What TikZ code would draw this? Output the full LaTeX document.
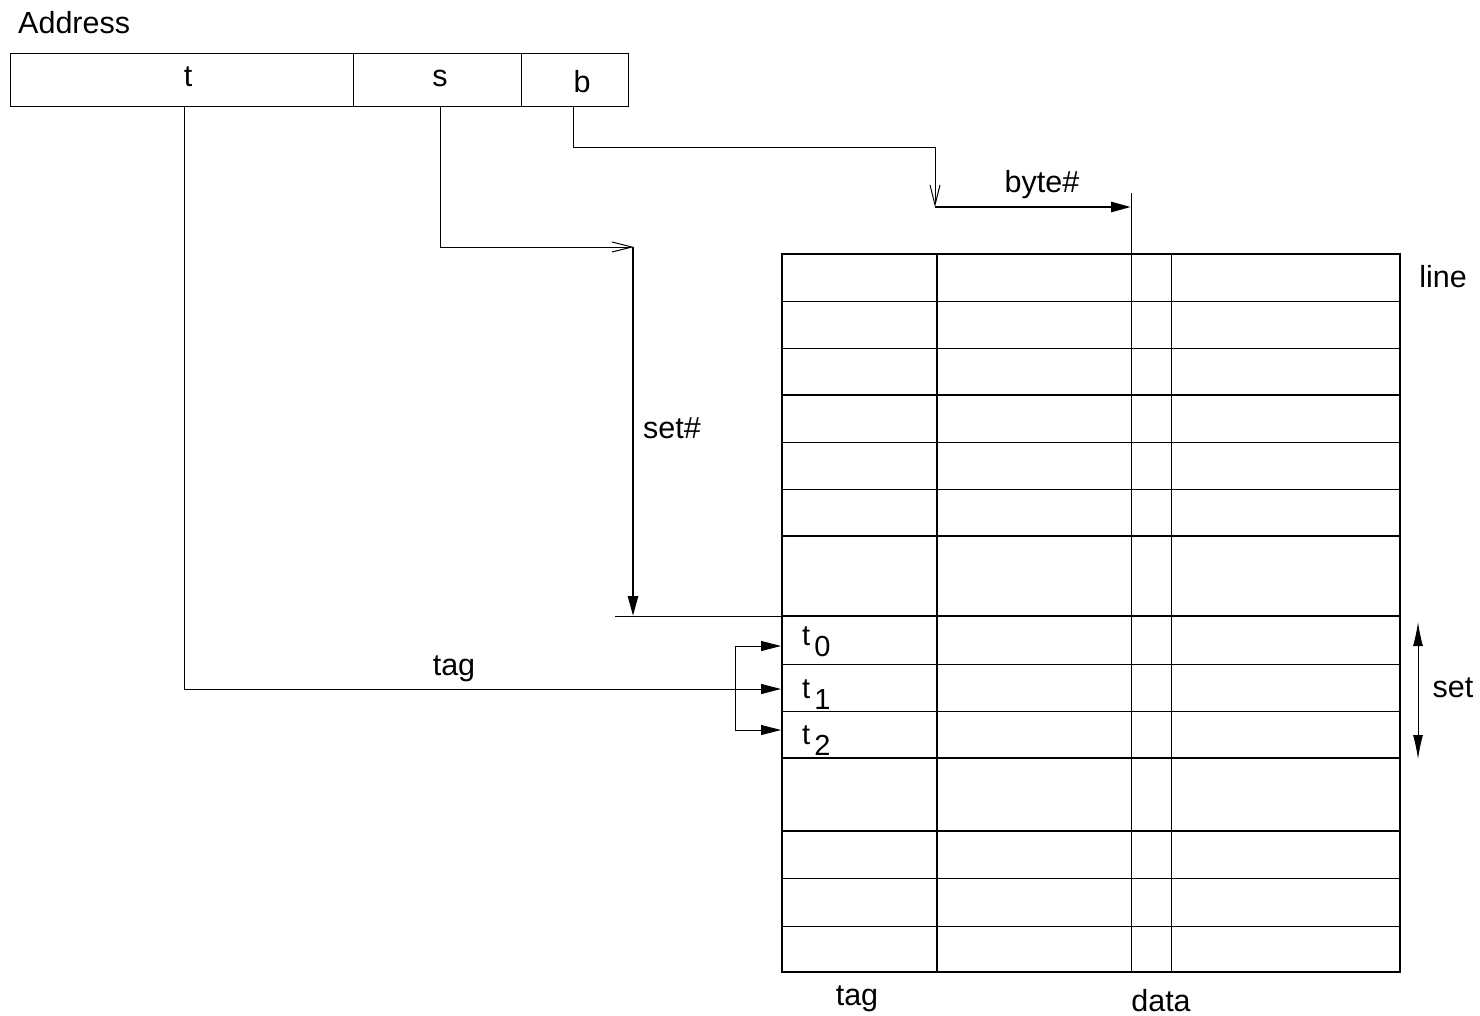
\documentclass[tikz,border=0pt]{standalone}
\usepackage{fontspec}
\setmainfont{Liberation Sans}
\usetikzlibrary{arrows.meta}
\begin{document}
\begin{tikzpicture}[x=1pt,y=-1pt,
  thinln/.style={line width=1pt},
  thickln/.style={line width=2.6pt},
  lbl/.style={font=\fontsize{30.5}{34}\selectfont, inner sep=0pt, anchor=base},
  small/.style={font=\fontsize{29}{30}\selectfont, inner sep=0pt, anchor=base west},
  field/.style={draw, line width=1pt, minimum height=53pt, inner sep=0pt, outer sep=0pt, anchor=north west},
  fillarrow/.style={-{Triangle[length=20pt,width=10pt]}},
  openarrow/.style={-{Straight Barb[length=20pt,width=10pt]}}]
\useasboundingbox (0,0) rectangle (1480,1015);

% Address register
\node[lbl, anchor=base west] (addr) at (18,33) {Address};
\node[field, minimum width=343pt] (ft) at (10,53) {};
\node[field, minimum width=168pt] (fs) at (ft.north east) {};
\node[field, minimum width=107pt] (fb) at (fs.north east) {};
\node[lbl] (tl) at (188,86) {t};
\node[lbl] (sl) at (440,86) {s};
\node[lbl] (bl) at (582,92) {b};

% Cache table
\coordinate (tbl) at (782,254);
\coordinate (tbr) at (1400,972);
\foreach \y in {301,348,442,489,664,711,878,926}
  \draw[thinln] (782,\y) -- (1400,\y);
\foreach \y in {395,536,616,758,831}
  \draw[thickln] (782,\y) -- (1400,\y);
\draw[thickln] (937,254) -- (937,972);
\draw[thinln] (1171,254) -- (1171,972);
\coordinate (bytetop) at (1131,193);
\draw[thinln] (bytetop) -- (1131,972);
\draw[thickln] (tbl) rectangle (tbr);

% Tag path
\coordinate (t0in) at (781,646);
\coordinate (t1in) at (781,689);
\coordinate (t2in) at (781,730);
\coordinate (br) at (735,689);
\draw[thinln, fillarrow] ([xshift=3pt]ft.south) |- (t1in);
\draw[thinln, fillarrow] (br) |- (t0in);
\draw[thinln, fillarrow] (br) |- (t2in);

% Set path
\coordinate (scorner) at (634,247);
\coordinate (setend) at (633,616);
\coordinate (setline) at (615,616);
\draw[thinln, openarrow] ([xshift=3pt]fs.south) |- (scorner);
\draw[thickln, fillarrow] (633,247) -- (setend);
\draw[thinln] (setline) -- (782,616);

% Byte path
\coordinate (bcorner) at (935,207);
\coordinate (byteend) at (1131,207);
\draw[thinln, openarrow] ([xshift=-1pt]fb.south) |- (935,147) -- (bcorner);
\draw[thickln, fillarrow] (bcorner) -- (byteend);

% Set extent arrow
\coordinate (sa1) at (1418,622);
\coordinate (sa2) at (1418,759);
\draw[thinln, {Latex[length=24pt,width=10pt]}-{Latex[length=24pt,width=10pt]}] (sa1) -- (sa2);

% Labels
\node[lbl] (linel) at (1443,287) {line};
\node[lbl] (setnl) at (672,438) {set\#};
\node[lbl] (bytel) at (1042,192) {byte\#};
\node[lbl] (tagl) at (454,675) {tag};
\node[lbl] (setl) at (1453,697) {set};
\node[lbl] (tagb) at (857,1005) {tag};
\node[lbl] (datab) at (1161,1011) {data};
\node[small] (t0) at (802,645) {t\hspace{4pt}\raisebox{-11pt}{0}};
\node[small] (t1) at (802,698) {t\hspace{4pt}\raisebox{-11pt}{1}};
\node[small] (t2) at (802,744) {t\hspace{4pt}\raisebox{-11pt}{2}};
\end{tikzpicture}
\end{document}
